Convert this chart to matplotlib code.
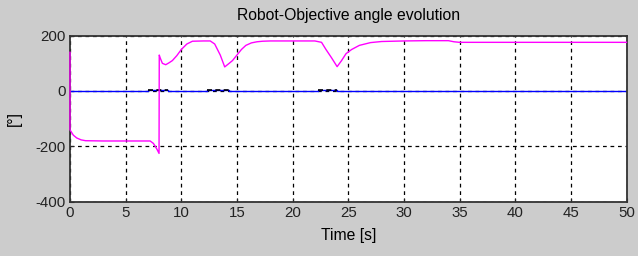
import matplotlib
matplotlib.use("Agg")
import matplotlib.pyplot as plt
import numpy as np

plt.rcParams['font.family'] = ['Liberation Sans', 'DejaVu Sans']

# Robot-objective angle (magenta)
angle_t = [0.0, 0.0, 0.02, 0.3, 0.6, 1.0, 1.4, 3.0, 5.0, 7.2, 7.5, 7.8, 8.0, 8.02, 8.1, 8.3, 8.6,
           8.9, 9.2, 9.6, 10.0, 10.5, 11.0, 12.0, 12.6, 13.0, 13.5, 13.9, 14.3, 14.6, 15.0, 15.4,
           15.8, 16.3, 16.8, 17.3, 18.0, 20.0, 22.0, 22.6, 23.0, 23.5, 24.0, 24.4, 24.8, 25.3,
           26.0, 27.0, 28.0, 29.0, 30.0, 32.0, 34.0, 34.5, 35.0, 40.0, 45.0, 50.0]
angle_v = [140, -140, -142, -160, -170, -177, -180, -181, -181, -181, -190, -210, -226, 130, 120, 100,
           95, 102, 110, 128, 150, 170, 180, 181, 181, 170, 130, 87, 100, 110, 130, 150,
           165, 174, 178, 180, 181, 181, 181, 176, 150, 120, 88, 110, 135, 150,
           165, 175, 179, 180, 181, 182, 182, 178, 176, 176, 176, 176]

# Reference angle (blue)
ref_t = [0, 7.0, 7.0, 8.8, 8.8, 12.3, 12.3, 14.3, 14.3, 22.3, 22.3, 24.0, 24.0, 50]
ref_v = [0, 0, 5, 5, 0, 0, 5, 5, 0, 0, 5, 5, 0, 0]

# Black dashed segments near zero
seg_t = [[7.0, 8.8], [12.3, 14.3], [22.3, 24.0]]
seg_v = 3

xticks = [0, 5, 10, 15, 20, 25, 30, 35, 40, 45, 50]
yticks = [-400, -200, 0, 200]

fig = plt.figure(figsize=(6.38, 2.56), dpi=100)
bg = '#cccccc'
fig.patch.set_facecolor(bg)
ax = fig.add_axes([70/638, 1 - 201.5/256, (626.5-70)/638, (201.5-35.7)/256])
ax.set_facecolor('white')
ax.set_axisbelow(True)

ax.plot(ref_t, ref_v, color='#0000ff', lw=1.0, zorder=3)
for s in seg_t:
    ax.plot(s, [seg_v, seg_v], color='black', lw=1.2, ls=(0, (3, 2)), zorder=4)
ax.plot(angle_t, angle_v, color='#ff00ff', lw=1.0, zorder=7, clip_on=False)

ax.set_xlim(0, 50)
ax.set_ylim(-400, 200)
ax.set_xticks(xticks)
ax.set_yticks(yticks)
ax.set_xticklabels([str(x) for x in xticks])
ax.set_yticklabels([str(y) for y in yticks])
ax.grid(True, color='black', ls=(0, (3, 3)), lw=0.9)
ax.tick_params(direction='in', length=3, labelsize=10.8, pad=3, colors='#222222')
for sp in ax.spines.values():
    sp.set_color('#333333')
    sp.set_linewidth(1.3)
    sp.set_zorder(6)

ax.set_title('Robot-Objective angle evolution', fontsize=11.3, pad=11)
ax.set_xlabel('Time [s]', fontsize=11.3, labelpad=6)
ax.set_ylabel('[°]', fontsize=11.3, labelpad=10)

fig.savefig('out.png', dpi=100, facecolor=bg)
